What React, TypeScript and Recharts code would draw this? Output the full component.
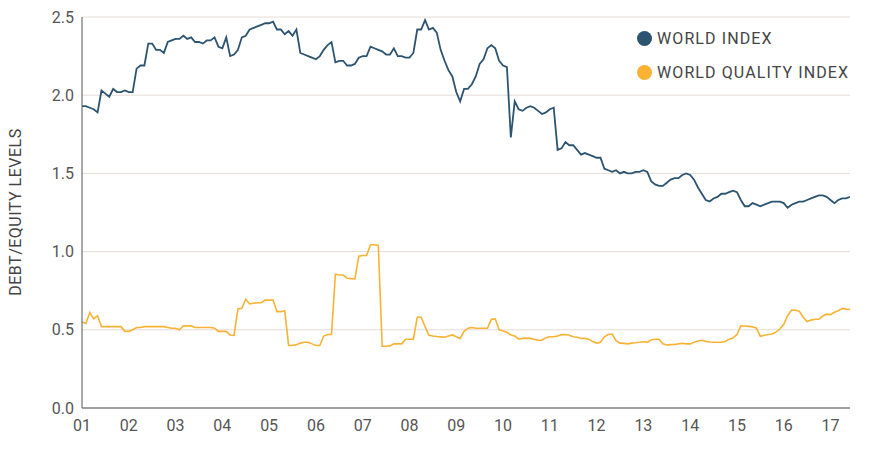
import React from "react";
import {
  LineChart,
  Line,
  XAxis,
  YAxis,
  CartesianGrid,
} from "recharts";

// monthly readings, Jan 2001 .. Jun 2017
const worldIndex = [
  1.93, 1.93, 1.92, 1.91, 1.89, 2.03, 2.01, 1.99, 2.04, 2.02,
  2.02, 2.03, 2.02, 2.02, 2.17, 2.19, 2.19, 2.33, 2.33, 2.29,
  2.29, 2.27, 2.34, 2.35, 2.36, 2.36, 2.38, 2.36, 2.37, 2.34,
  2.34, 2.33, 2.35, 2.35, 2.37, 2.31, 2.3, 2.37, 2.25, 2.26,
  2.29, 2.37, 2.38, 2.42, 2.43, 2.44, 2.45, 2.46, 2.46, 2.47,
  2.42, 2.42, 2.39, 2.41, 2.38, 2.42, 2.27, 2.26, 2.25, 2.24,
  2.23, 2.25, 2.29, 2.32, 2.34, 2.21, 2.22, 2.22, 2.19, 2.19,
  2.2, 2.24, 2.25, 2.25, 2.31, 2.3, 2.29, 2.28, 2.26, 2.26,
  2.3, 2.25, 2.25, 2.24, 2.24, 2.27, 2.42, 2.42, 2.48, 2.42,
  2.43, 2.4, 2.29, 2.22, 2.16, 2.12, 2.02, 1.96, 2.04, 2.04,
  2.07, 2.12, 2.2, 2.23, 2.3, 2.32, 2.3, 2.22, 2.19, 2.18,
  1.73, 1.96, 1.91, 1.9, 1.92, 1.93, 1.92, 1.9, 1.88, 1.89,
  1.91, 1.92, 1.65, 1.66, 1.7, 1.68, 1.68, 1.65, 1.62, 1.63,
  1.62, 1.61, 1.6, 1.6, 1.53, 1.52, 1.51, 1.52, 1.5, 1.51,
  1.5, 1.5, 1.51, 1.51, 1.52, 1.51, 1.45, 1.43, 1.42, 1.42,
  1.44, 1.46, 1.47, 1.47, 1.49, 1.5, 1.49, 1.46, 1.41, 1.37,
  1.33, 1.32, 1.34, 1.35, 1.37, 1.37, 1.38, 1.39, 1.38, 1.33,
  1.29, 1.29, 1.31, 1.3, 1.29, 1.3, 1.31, 1.32, 1.32, 1.32,
  1.31, 1.28, 1.3, 1.31, 1.32, 1.32, 1.33, 1.34, 1.35, 1.36,
  1.36, 1.35, 1.33, 1.31, 1.33, 1.34, 1.34, 1.35,
];

const qualityIndex = [
  0.55, 0.54, 0.61, 0.57, 0.59, 0.52, 0.52, 0.52, 0.52, 0.52,
  0.52, 0.49, 0.49, 0.5, 0.515, 0.515, 0.52, 0.52, 0.52, 0.52,
  0.52, 0.52, 0.515, 0.51, 0.51, 0.5, 0.525, 0.525, 0.525, 0.515,
  0.515, 0.515, 0.515, 0.515, 0.51, 0.49, 0.49, 0.49, 0.467, 0.465,
  0.633, 0.637, 0.695, 0.665, 0.67, 0.673, 0.673, 0.69, 0.69, 0.69,
  0.616, 0.616, 0.62, 0.4, 0.4, 0.405, 0.415, 0.42, 0.42, 0.41,
  0.4, 0.4, 0.46, 0.47, 0.47, 0.855, 0.85, 0.85, 0.83, 0.827,
  0.825, 0.97, 0.975, 0.975, 1.044, 1.044, 1.04, 0.395, 0.395, 0.397,
  0.41, 0.41, 0.41, 0.44, 0.44, 0.44, 0.58, 0.58, 0.52, 0.465,
  0.46, 0.457, 0.455, 0.452, 0.46, 0.467, 0.455, 0.445, 0.49, 0.51,
  0.515, 0.51, 0.51, 0.51, 0.51, 0.567, 0.57, 0.5, 0.493, 0.484,
  0.467, 0.46, 0.44, 0.445, 0.447, 0.445, 0.44, 0.433, 0.433, 0.45,
  0.456, 0.456, 0.46, 0.469, 0.47, 0.465, 0.456, 0.452, 0.445, 0.445,
  0.44, 0.425, 0.415, 0.42, 0.455, 0.47, 0.473, 0.43, 0.415, 0.413,
  0.41, 0.415, 0.417, 0.42, 0.424, 0.42, 0.435, 0.44, 0.44, 0.41,
  0.403, 0.405, 0.406, 0.41, 0.414, 0.41, 0.41, 0.42, 0.428, 0.433,
  0.426, 0.422, 0.42, 0.42, 0.42, 0.425, 0.44, 0.448, 0.47, 0.525,
  0.524, 0.522, 0.52, 0.51, 0.458, 0.465, 0.47, 0.473, 0.485, 0.505,
  0.535, 0.59, 0.625, 0.627, 0.618, 0.58, 0.553, 0.562, 0.567, 0.567,
  0.588, 0.6, 0.597, 0.612, 0.622, 0.637, 0.632, 0.63,
];

const yearLabels = [
  "01", "02", "03", "04", "05", "06", "07", "08", "09",
  "10", "11", "12", "13", "14", "15", "16", "17",
];
const yTicks = [0, 0.5, 1, 1.5, 2, 2.5];

const seriesNames = ["WORLD INDEX", "WORLD QUALITY INDEX"];
const seriesColors = ["#2c5470", "#f9b234"];

const rows = worldIndex.map((w, i) => ({
  m: i,
  world: w,
  quality: qualityIndex[i],
}));
const yearTicks = yearLabels.map((_, i) => i * 12);

const FONT = "Roboto, 'DejaVu Sans', sans-serif";
const textColor = "#555";

function LegendBox() {
  return (
    <div
      style={{
        position: "absolute",
        left: 637,
        top: 21,
        fontFamily: FONT,
      }}
    >
      {seriesNames.map((name, k) => (
        <div
          key={name}
          style={{
            display: "flex",
            alignItems: "center",
            height: 34,
            fontSize: 16,
            color: "#444",
            letterSpacing: 1.1,
          }}
        >
          <span
            style={{
              width: 15,
              height: 15,
              borderRadius: "50%",
              background: seriesColors[k],
              marginRight: 5,
            }}
          />
          {name}
        </div>
      ))}
    </div>
  );
}

export default function App() {
  return (
    <div
      style={{
        position: "absolute",
        left: 0,
        top: 0,
        width: 870,
        height: 450,
        background: "#fff",
        fontFamily: FONT,
      }}
    >
      <LineChart
        width={870}
        height={450}
        data={rows}
        margin={{ top: 17, right: 20, bottom: 0, left: 0 }}
      >
        <CartesianGrid vertical={false} stroke="#e4dcd8" />
        <XAxis
          type="number"
          dataKey="m"
          domain={[0, worldIndex.length - 1]}
          ticks={yearTicks}
          tickFormatter={(v) => yearLabels[v / 12]}
          height={42}
          stroke="#555"
          tickLine={false}
          tickSize={0}
          tickMargin={12}
          tick={{ fill: textColor, fontSize: 16, fontFamily: FONT }}
          allowDataOverflow
        />
        <YAxis
          domain={[0, 2.5]}
          ticks={yTicks}
          tickFormatter={(v) => v.toFixed(1)}
          width={82}
          stroke="#555"
          tickLine={false}
          tickSize={0}
          tickMargin={8}
          tick={{ fill: textColor, fontSize: 16, fontFamily: FONT }}
        />
        <Line
          type="linear"
          dataKey="world"
          name={seriesNames[0]}
          stroke={seriesColors[0]}
          strokeWidth={1.8}
          dot={false}
          isAnimationActive={false}
        />
        <Line
          type="linear"
          dataKey="quality"
          name={seriesNames[1]}
          stroke={seriesColors[1]}
          strokeWidth={1.6}
          dot={false}
          isAnimationActive={false}
        />
      </LineChart>
      <LegendBox />
      <div
        style={{
          position: "absolute",
          left: 15,
          top: 212,
          transform: "translate(-50%, -50%) rotate(-90deg)",
          whiteSpace: "nowrap",
          fontSize: 16,
          color: "#444",
          letterSpacing: 0.5,
        }}
      >
        DEBT/EQUITY LEVELS
      </div>
    </div>
  );
}
